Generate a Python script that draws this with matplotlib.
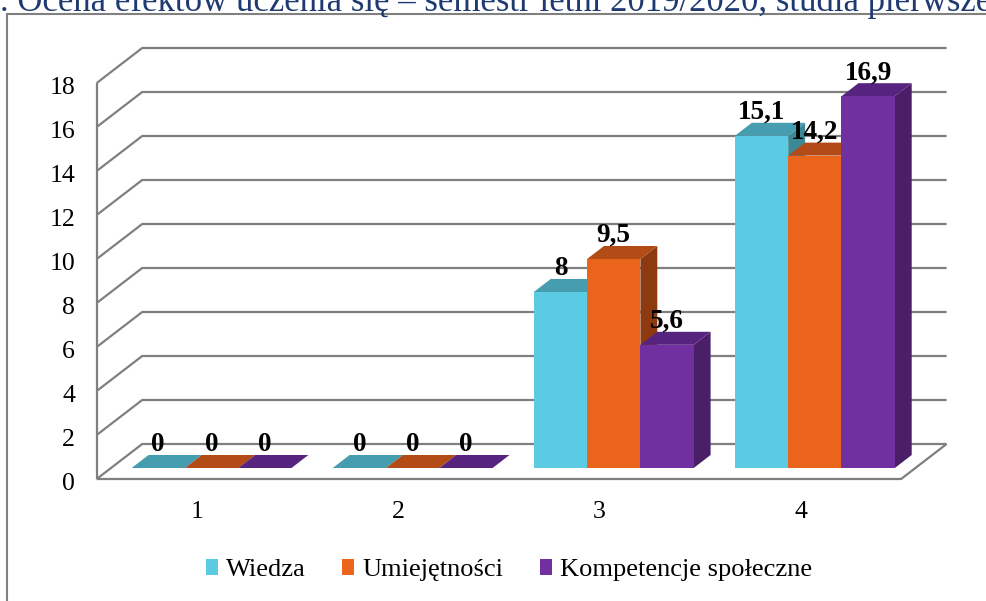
import matplotlib
matplotlib.use("Agg")
import matplotlib.pyplot as plt
from matplotlib.lines import Line2D
from matplotlib.patches import Patch

# ---------------- data ----------------
categories = ["1", "2", "3", "4"]
series_names = ["Wiedza", "Umiejętności", "Kompetencje społeczne"]
wiedza = [0, 0, 8, 15.1]
umiejetnosci = [0, 0, 9.5, 14.2]
kompetencje = [0, 0, 5.6, 16.9]
y_ticks = [0, 2, 4, 6, 8, 10, 12, 14, 16, 18]
title_text = ". Ocena efektów uczenia się – semestr letni 2019/2020, studia pierwszego stopnia"

series_values = [wiedza, umiejetnosci, kompetencje]
front_colors = ["#5BCBE3", "#EA641C", "#7030A0"]
top_colors = ["#479DB0", "#B24B16", "#56247F"]
side_colors = ["#3D8897", "#8E3A10", "#4A1F68"]

# ---------------- layout (pixel geometry of the oblique projection) ----------------
W, H = 987, 601
PX_CAT = 201.1      # pixels per category
X0PX = 96.7         # front-left corner of floor
Y0PX = 479.0        # front baseline
PX_UNIT = 22.0      # pixels per value unit
DEPTH_X, DEPTH_Y = 45.5, 35.0
DX = DEPTH_X / PX_CAT
DY = DEPTH_Y / PX_UNIT
D0, D1 = 11 / 35, 24 / 35     # bar depth range (fraction of floor depth)
BAR_W = 53.3 / PX_CAT

SERIF = ["Liberation Serif", "DejaVu Serif"]
plt.rcParams["font.family"] = SERIF

fig = plt.figure(figsize=(W / 100, H / 100), dpi=100)
ax = fig.add_axes([0, 0, 1, 1])
ax.set_xlim(0.5 - X0PX / PX_CAT, 0.5 + (W - X0PX) / PX_CAT)
ax.set_ylim((Y0PX - H) / PX_UNIT, Y0PX / PX_UNIT)
ax.axis("off")

x_left = 0.5
x_right = 0.5 + len(categories)
grid_kw = dict(color="#7F7F7F", lw=1.6, solid_capstyle="butt", zorder=1)

# back wall gridlines + left wall diagonals
for v in y_ticks:
    ax.plot([x_left, x_left + DX, x_right + DX], [v, v + DY, v + DY], **grid_kw)
# front vertical axis
ax.plot([x_left, x_left], [0, y_ticks[-1]], **grid_kw)
# floor front edge and right edge
ax.plot([x_left, x_right, x_right + DX], [0, 0, DY], **grid_kw)


def shift(x, y, d):
    return x + d * DX, y + d * DY


# bars
for ci, cat in enumerate(categories):
    c = ci + 1
    for si, vals in enumerate(series_values):
        v = vals[ci]
        x0 = c - 1.5 * BAR_W + si * BAR_W
        x1 = x0 + BAR_W
        # side face
        pts = [shift(x1, 0, D0), shift(x1, v, D0), shift(x1, v, D1), shift(x1, 0, D1)]
        ax.fill([p[0] for p in pts], [p[1] for p in pts], color=side_colors[si], lw=0, zorder=2)
        # top face
        pts = [shift(x0, v, D0), shift(x1, v, D0), shift(x1, v, D1), shift(x0, v, D1)]
        ax.fill([p[0] for p in pts], [p[1] for p in pts], color=top_colors[si], lw=0, zorder=2)
        # front face
        pts = [shift(x0, 0, D0), shift(x1, 0, D0), shift(x1, v, D0), shift(x0, v, D0)]
        ax.fill([p[0] for p in pts], [p[1] for p in pts], color=front_colors[si], lw=0, zorder=2)
        # value label
        lx, _ = shift((x0 + x1) / 2, v, D0)
        _, ly = shift(x0, v, D1)
        lab = ("%g" % v).replace(".", ",")
        ax.text(lx, ly + 4 / PX_UNIT, lab, ha="center", va="baseline",
                fontsize=19.5, fontweight="bold", color="black", zorder=5)

# y tick labels
for v in y_ticks:
    ax.text(x_left - 21.5 / PX_CAT, v - 10.5 / PX_UNIT, str(v), ha="right", va="baseline",
            fontsize=18.5, color="black")

# category labels
for ci, cat in enumerate(categories):
    ax.text(ci + 1, -39 / PX_UNIT, cat, ha="center", va="baseline", fontsize=18.5, color="black")

# chart border (left and top visible)
fig.add_artist(Line2D([7.3 / W, 7.3 / W], [0, 1 - 14 / H], color="#808080", lw=1.5,
                      transform=fig.transFigure))
fig.add_artist(Line2D([7.3 / W, 1], [1 - 14 / H, 1 - 14 / H], color="#808080", lw=1.5,
                      transform=fig.transFigure))

# title (cut off by the top edge, as in the reference)
fig.text(0.0, 1 - 11 / H, title_text, ha="left", va="baseline", fontsize=25,
         color="#1F3A70", family=SERIF)

# legend
handles = [Patch(facecolor=col, edgecolor="none") for col in front_colors]
fig.legend(handles, series_names, loc="center", bbox_to_anchor=(509 / W, 1 - 570 / H),
           ncol=3, frameon=False, fontsize=19, handlelength=0.45, handleheight=0.55,
           handletextpad=0.3, columnspacing=1.4, borderpad=0, borderaxespad=0)

fig.savefig("out.png", dpi=100)
